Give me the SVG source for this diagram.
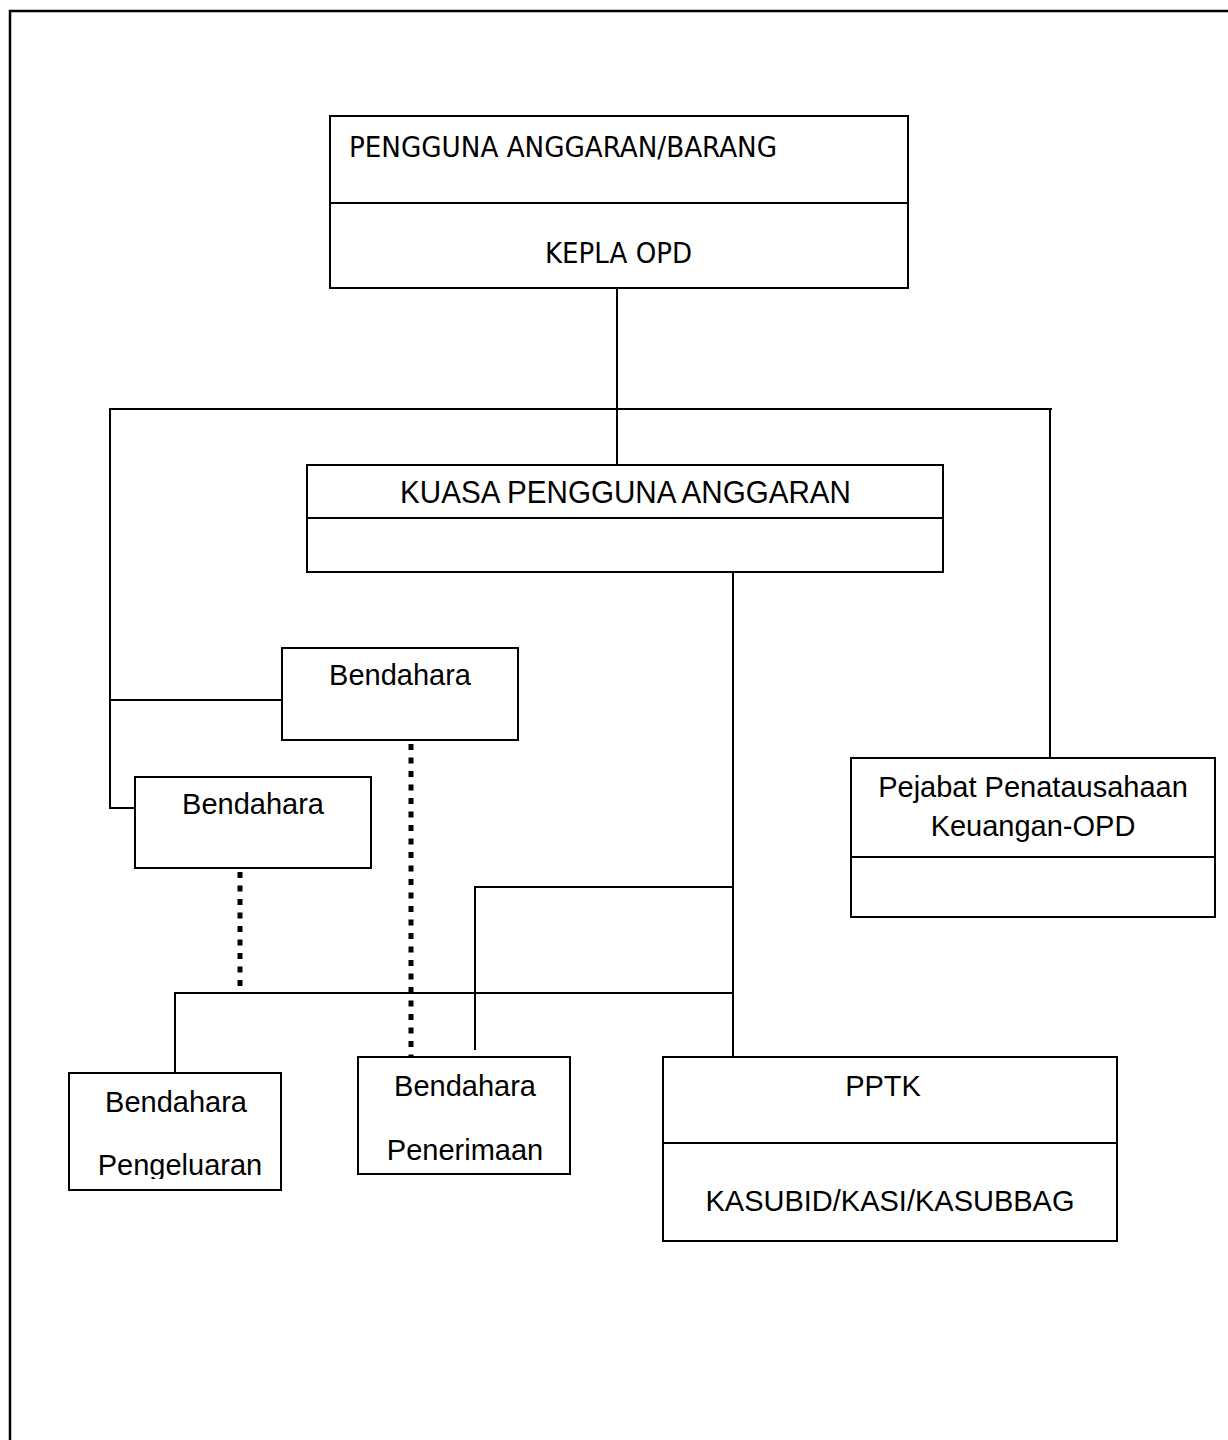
<svg xmlns="http://www.w3.org/2000/svg" width="1228" height="1440" viewBox="0 0 1228 1440">
  <style>
    .box { fill: #ffffff; stroke: #000000; stroke-width: 2; }
    .div { stroke: #000000; stroke-width: 2; }
    .ln { fill: none; stroke: #000000; stroke-width: 2; }
    .dot { fill: none; stroke: #000000; stroke-width: 5; stroke-dasharray: 6 7.5; }
    .t { font-family: "Liberation Sans", Arial, sans-serif; font-size: 29px; fill: #000000; }
    .tc { text-anchor: middle; }
    .th { font-family: "DejaVu Sans Condensed", "DejaVu Sans", sans-serif; font-size: 29px; fill: #000000; }
    .tn { font-family: "Liberation Sans", Arial, sans-serif; font-size: 31px; fill: #000000; }
  </style>
  <defs>
    <clipPath id="clipPengeluaran">
      <rect x="69" y="1073" width="212" height="106"/>
    </clipPath>
  </defs>

  <rect x="0" y="0" width="1228" height="1440" fill="#ffffff"/>
  <!-- page frame -->
  <rect x="10" y="11" width="1240" height="1460" fill="none" stroke="#000000" stroke-width="2.5"/>

  <!-- connectors -->
  <g id="connectors">
    <line class="ln" x1="617" y1="288" x2="617" y2="465"/>
    <polyline class="ln" points="135,808 110,808 110,409 1052,409"/>
    <line class="ln" x1="1050" y1="409" x2="1050" y2="758"/>
    <line class="ln" x1="110" y1="700" x2="282" y2="700"/>
    <line class="ln" x1="733" y1="572" x2="733" y2="1057"/>
    <polyline class="ln" points="733,887 475,887 475,1050"/>
    <polyline class="ln" points="733,993 175,993 175,1073"/>
    <line class="dot" x1="240" y1="872" x2="240" y2="993"/>
    <line class="dot" x1="411" y1="744" x2="411" y2="1057"/>
  </g>

  <g id="pengguna-anggaran">
    <rect class="box" x="330" y="116" width="578" height="172"/>
    <line class="div" x1="330" y1="203" x2="908" y2="203"/>
    <text class="th" x="349" y="157" textLength="428" lengthAdjust="spacingAndGlyphs">PENGGUNA ANGGARAN/BARANG</text>
    <text class="th" x="545" y="263" textLength="147" lengthAdjust="spacingAndGlyphs">KEPLA OPD</text>
  </g>

  <g id="kuasa-pengguna-anggaran">
    <rect class="box" x="307" y="465" width="636" height="107"/>
    <line class="div" x1="307" y1="518" x2="943" y2="518"/>
    <text class="tn" x="400" y="503" textLength="451" lengthAdjust="spacingAndGlyphs">KUASA PENGGUNA ANGGARAN</text>
  </g>

  <g id="bendahara-1">
    <rect class="box" x="282" y="648" width="236" height="92"/>
    <text class="t tc" x="400" y="685">Bendahara</text>
  </g>

  <g id="bendahara-2">
    <rect class="box" x="135" y="777" width="236" height="91"/>
    <text class="t tc" x="253" y="814">Bendahara</text>
  </g>

  <g id="pejabat-penatausahaan">
    <rect class="box" x="851" y="758" width="364" height="159"/>
    <line class="div" x1="851" y1="857" x2="1215" y2="857"/>
    <text class="t tc" x="1033" y="797">Pejabat Penatausahaan</text>
    <text class="t tc" x="1033" y="836">Keuangan-OPD</text>
  </g>

  <g id="bendahara-pengeluaran">
    <rect class="box" x="69" y="1073" width="212" height="117"/>
    <text class="t tc" x="176" y="1112">Bendahara</text>
    <text class="t tc" x="180" y="1175" clip-path="url(#clipPengeluaran)">Pengeluaran</text>
  </g>

  <g id="bendahara-penerimaan">
    <rect class="box" x="358" y="1057" width="212" height="117"/>
    <text class="t tc" x="465" y="1096">Bendahara</text>
    <text class="t tc" x="465" y="1160">Penerimaan</text>
  </g>

  <g id="pptk">
    <rect class="box" x="663" y="1057" width="454" height="184"/>
    <line class="div" x1="663" y1="1143" x2="1117" y2="1143"/>
    <text class="t tc" x="883" y="1096">PPTK</text>
    <text class="t tc" x="890" y="1211">KASUBID/KASI/KASUBBAG</text>
  </g>
</svg>
